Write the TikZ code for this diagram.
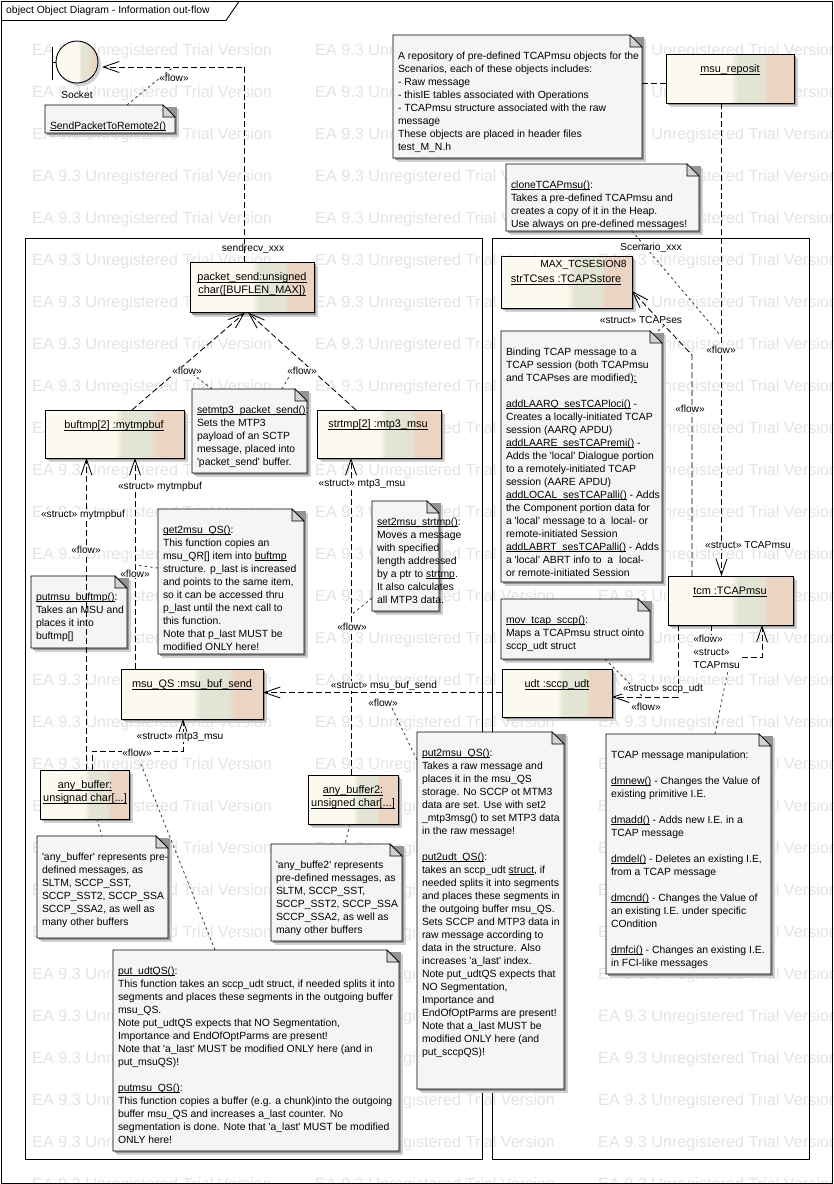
\documentclass[tikz,border=0pt]{standalone}
\usepackage{fontspec}
\setmainfont{Liberation Sans}[Ligatures=TeXOff]
\usetikzlibrary{arrows.meta}
\definecolor{cream}{HTML}{FCF9EF}
\definecolor{sage}{HTML}{E3E4D3}
\definecolor{peach}{HTML}{ECD4C3}
\definecolor{notefill}{HTML}{F5F5F5}
\definecolor{foldfill}{HTML}{D2D2D2}
\definecolor{wmark}{HTML}{E4E4E4}
\pgfdeclarehorizontalshading{objshade}{100bp}{color(0bp)=(cream); color(50bp)=(cream); color(53bp)=(sage); color(63bp)=(sage); color(65bp)=(peach); color(100bp)=(peach)}
\pgfdeclarehorizontalshading{sockshade}{100bp}{color(0bp)=(cream); color(38bp)=(cream); color(52bp)=(cream); color(55bp)=(sage); color(62bp)=(sage); color(70bp)=(peach); color(100bp)=(peach)}
\newsavebox\ulbox
\newcommand\ulx[1]{\leavevmode\sbox\ulbox{#1}\rlap{\rule[-1.7pt]{\wd\ulbox}{.75pt}}\usebox\ulbox}
\newcommand\blk{\mbox{}}
\tikzset{
 x=1pt,y=-1pt,
 txtfont/.style={font=\fontsize{10.4}{13}\selectfont},
 labfont/.style={font=\fontsize{10.2}{13}\selectfont},
 boxfont/.style={font=\fontsize{10.9}{13}\selectfont},
 framel/.style={draw=black,line width=.9pt},
 objstyle/.style={draw=black,line width=.9pt,shade,shading=objshade,inner sep=0pt,outer sep=0pt,rectangle},
 anchorbox/.style={inner sep=0pt,outer sep=0pt,rectangle},
 shad1/.style={fill=black!18},
 shad2/.style={fill=black!42},
 notefillst/.style={fill=notefill,draw=black,line width=.9pt,line join=miter},
 foldst/.style={fill=foldfill,draw=black,line width=.7pt},
 notetext/.style={txtfont,anchor=north west,align=left,inner sep=0pt,outer sep=0pt},
 boxtext/.style={boxfont,align=center,inner sep=0pt,outer sep=0pt},
 lab/.style={labfont,inner sep=.6pt,fill=white},
 plainlab/.style={labfont,inner sep=0pt},
 conn/.style={draw=black,line width=.85pt,dash pattern=on 6pt off 3pt},
 flowarr/.style={conn,-{Straight Barb[length=16pt,width=11pt,line width=.85pt]}},
 lnk/.style={draw=black!75,line width=.85pt,dash pattern=on 2.5pt off 3pt},
 wm/.style={font=\fontsize{16.2}{18}\selectfont,text=wmark,anchor=west,inner sep=0pt},
}
% name x0 y0 x1 y1
\newcommand\objbox[5]{%
 \fill[shad1] (#2+4,#3+4) rectangle (#4+4,#5+4);
 \fill[shad2] (#2+2,#3+2) rectangle (#4+2,#5+2);
 \node[objstyle,minimum width={(#4-#2)*1pt},minimum height={(#5-#3)*1pt}] (#1) at ({(#2+#4)/2},{(#3+#5)/2}) {};
}
% name x0 y0 x1 y1 text
\newcommand\notebox[6]{%
 \fill[shad1] (#2+4,#3+4) rectangle (#4+4,#5+4);
 \fill[shad2] (#2+2,#3+2) rectangle (#4+2,#5+2);
 \node[anchorbox,minimum width={(#4-#2)*1pt},minimum height={(#5-#3)*1pt}] (#1) at ({(#2+#4)/2},{(#3+#5)/2}) {};
 \draw[notefillst] (#2,#3) -- ({#4-12},#3) -- (#4,{#3+12}) -- (#4,#5) -- (#2,#5) -- cycle;
 \draw[foldst] ({#4-12},#3) -- ({#4-12},{#3+12}) -- (#4,{#3+12}) -- cycle;
 \node[notetext] (#1-t) at ({#2+5},{#3+15.5}) {\rule{0pt}{9pt}#6};
}
\begin{document}
\begin{tikzpicture}
\useasboundingbox (0,0) rectangle (834,1184);
\fill[white] (0,0) rectangle (834,1184);
% watermark
\begin{scope}
\clip (0,0) rectangle (834,1184);
\foreach \r in {0,...,27}{
 \foreach \c in {32,315,598}{
  \node[wm] at (\c,{51+42*\r}) {EA 9.3 Unregistered Trial Version};
 }
}
\end{scope}
% diagram frame
\draw[framel] (1.5,1.5) rectangle (832.5,1183);
\draw[framel] (1.5,20.5) -- (226,20.5) -- (239,1.5);
\node[txtfont,anchor=west,inner sep=0pt] (title) at (6,11) {object Object Diagram - Information out-flow};
% packages
\node[anchorbox,draw=black,line width=.9pt,minimum width=457.5pt,minimum height=921pt] (sendrecv) at (253.75,698.5) {};
\node[anchorbox,draw=black,line width=.9pt,minimum width=316.5pt,minimum height=921pt] (scenario) at (650.75,698.5) {};
\node[plainlab] (sendrecv-t) at (253,249) {sendrecv\_xxx};
\node[plainlab] (scenario-t) at (651,248) {Scenario\_xxx};
% socket
\fill[shad1] (80,65) circle[radius=21];
\node[objstyle,shading=sockshade,circle,minimum size=42pt] (socket) at (77,62) {};
\coordinate (barmid) at (52.5,62);
\draw[framel] (52.5,47) -- (52.5,80);
\draw[framel] (barmid) -- (socket.west);
\node[plainlab] (socket-t) at (77,94.5) {Socket};
% objects
\objbox{packet}{190}{262}{314}{312.5}
\node[boxtext] (packet-t) at (252,284.5) {\ulx{packet\_send:unsigned}\\\ulx{char([BUFLEN\_MAX])}};
\objbox{reposit}{666}{54}{794}{103}
\node[boxtext] (reposit-t) at (730,70) {\ulx{msu\_reposit}};
\objbox{strtc}{501}{256}{632}{308}
\node[boxtext,font=\fontsize{10.3}{13}\selectfont] (strtc-a) at (583.5,264.5) {MAX\_TCSESION8};
\node[boxtext] (strtc-t) at (566,280) {\ulx{strTCses :TCAPSstore}};
\objbox{tcm}{668}{576}{793}{625}
\node[boxtext] (tcm-t) at (730,592) {\ulx{tcm :TCAPmsu}};
\objbox{udt}{502}{669}{612}{717}
\node[boxtext] (udt-t) at (557,685) {\ulx{udt :sccp\_udt}};
\objbox{msuqs}{121}{669}{263}{719}
\node[boxtext] (msuqs-t) at (192,685) {\ulx{msu\_QS :msu\_buf\_send}};
\objbox{buftmp}{45}{410}{184}{458}
\node[boxtext] (buftmp-t) at (114,426) {\ulx{buftmp[2] :mytmpbuf}};
\objbox{strtmp}{317}{410}{441}{458}
\node[boxtext] (strtmp-t) at (378,425) {\ulx{strtmp[2] :mtp3\_msu}};
\objbox{anyb}{40}{770}{129}{819}
\node[boxtext] (anyb-t) at (85,792.5) {\ulx{any\_buffer:}\\\ulx{unsignad char[...]}};
\objbox{anybb}{308}{775}{398}{824}
\node[boxtext] (anybb-t) at (353,797.5) {\ulx{any\_buffer2:}\\\ulx{unsigned char[...]}};
% notes
\notebox{nsend}{45}{105}{175}{133}{\ulx{SendPacketToRemote2()}}
\notebox{nrepo}{393}{35}{642}{158}{A repository of pre-defined TCAPmsu objects for the\\Scenarios, each of these objects includes:\\- Raw message\\- thisIE tables associated with Operations\\- TCAPmsu structure associated with the raw\\message\\These objects are placed in header files\\test\_M\_N.h}
\notebox{nclone}{506}{164}{699}{231}{\ulx{cloneTCAPmsu()}:\\Takes a pre-defined TCAPmsu and\\creates a copy of it in the Heap.\\Use always on pre-defined messages!}
\notebox{nbind}{501}{331}{662}{582}{Binding TCAP message to a\\TCAP session (both TCAPmsu\\and TCAPses are modified)\ulx{:}\\\blk\\\ulx{addLAARQ\_sesTCAPloci()} -\\Creates a locally-initiated TCAP\\session (AARQ APDU)\\\ulx{addLAARE\_sesTCAPremi()} -\\Adds the 'local' Dialogue portion\\to a remotely-initiated TCAP\\session (AARE APDU)\\\ulx{addLOCAL\_sesTCAPalli()} - Adds\\the Component portion data for\\a 'local' message to a~ local- or\\remote-initiated Session\\\ulx{addLABRT\_sesTCAPalli()} - Adds\\a 'local' ABRT info to~ a~ local-\\or remote-initiated Session}
\notebox{nmov}{501}{599}{650}{659}{\ulx{mov\_tcap\_sccp()}:\\Maps a TCAPmsu struct ointo\\sccp\_udt struct}
\notebox{nset}{192}{389}{307}{473}{\ulx{setmtp3\_packet\_send()}:\\Sets the MTP3\\payload of an SCTP\\message, placed into\\'packet\_send' buffer.}
\notebox{nget}{158}{509}{304}{654}{\ulx{get2msu\_QS()}:\\This function copies an\\msu\_QR[] item into \ulx{buftmp}\\structure. p\_last is increased\\and points to the same item,\\so it can be accessed thru\\p\_last until the next call to\\this function.\\Note that p\_last MUST be\\modified ONLY here!}
\notebox{nput}{31}{576}{127}{648}{\ulx{putmsu\_buftmp()}:\\Takes an MSU and\\places it into\\buftmp[]}
\notebox{nstr}{372}{501}{439}{611}{\ulx{set2msu\_strtmp()}:\\Moves a message\\with specified\\length addressed\\by a ptr to \ulx{strtmp}.\\It also calculates\\all MTP3 data.}
\notebox{nany}{37}{836}{168}{938}{'any\_buffer' represents pre-\\defined messages, as\\SLTM, SCCP\_SST,\\SCCP\_SST2, SCCP\_SSA\\SCCP\_SSA2, as well as\\many other buffers}
\notebox{nanyb}{271}{844}{402}{941}{'any\_buffe2' represents\\pre-defined messages, as\\SLTM, SCCP\_SST,\\SCCP\_SST2, SCCP\_SSA\\SCCP\_SSA2, as well as\\many other buffers}
\notebox{nudt}{113}{950}{399}{1151}{\ulx{put\_udtQS()}:\\This function takes an sccp\_udt struct, if needed splits it into\\segments and places these segments in the outgoing buffer\\msu\_QS.\\Note put\_udtQS expects that NO Segmentation,\\Importance and EndOfOptParms are present!\\Note that 'a\_last' MUST be modified ONLY here (and in\\put\_msuQS)!\\\blk\\\ulx{putmsu\_QS()}:\\This function copies a buffer (e.g. a chunk)into the outgoing\\buffer msu\_QS and increases a\_last counter. No\\segmentation is done. Note that 'a\_last' MUST be modified\\ONLY here!}
\notebox{nraw}{417}{732}{564}{1089}{\ulx{put2msu\_QS()}:\\Takes a raw message and\\places it in the msu\_QS\\storage. No SCCP ot MTM3\\data are set. Use with set2\\\_mtp3msg() to set MTP3 data\\in the raw message!\\\blk\\\ulx{put2udt\_QS()}:\\takes an sccp\_udt \ulx{struct}, if\\needed splits it into segments\\and places these segments in\\the outgoing buffer msu\_QS.\\Sets SCCP and MTP3 data in\\raw message according to\\data in the structure. Also\\increases 'a\_last' index.\\Note put\_udtQS expects that\\NO Segmentation,\\Importance and\\EndOfOptParms are present!\\Note that a\_last MUST be\\modified ONLY here (and\\put\_sccpQS)!}
\notebox{nman}{606}{734}{771}{974}{TCAP message manipulation:\\\blk\\\ulx{dmnew()} - Changes the Value of\\existing primitive I.E.\\\blk\\\ulx{dmadd()} - Adds new I.E. in a\\TCAP message\\\blk\\\ulx{dmdel()} - Deletes an existing I.E,\\from a TCAP message\\\blk\\\ulx{dmcnd()} - Changes the Value of\\an existing I.E. under specific\\COndition\\\blk\\\ulx{dmfci()} - Changes an existing I.E.\\in FCI-like messages}
% flows
\draw[flowarr] (244.5,0 |- packet.north) -- (244.5,67) -- ([shift={(4,5)}]socket.east);
\draw[flowarr] (132,0 |- buftmp.north) -- (245,0 |- packet.south);
\draw[flowarr] (356,0 |- strtmp.north) -- (248,0 |- packet.south);
\draw[flowarr] (86.5,0 |- anyb.north) -- (86.5,0 |- buftmp.south);
\draw[flowarr] (135,0 |- msuqs.north) -- (135,0 |- buftmp.south);
\draw[flowarr] (351,0 |- anybb.north) -- (351,0 |- strtmp.south);
\draw[flowarr] (92,0 |- anyb.north) -- (92,751) -- (183,751) -- (183,0 |- msuqs.south);
\draw[flowarr] (udt.west |- 0,692.5) -- (msuqs.east |- 0,692.5);
\draw[flowarr] (721.5,0 |- reposit.south) -- (721.5,0 |- tcm.north);
\draw[flowarr] (692,0 |- tcm.north) -- (692,355) -- (strtc.east |- 0,291);
\draw[flowarr] (678,0 |- tcm.south) -- (678,697) -- (udt.east |- 0,697);
\draw[flowarr] (711,0 |- tcm.south) -- (711,657) -- (762,657) -- (762,0 |- tcm.south);
\draw[conn] (nrepo.east |- 0,83) -- (reposit.west |- 0,83);
% note links
\coordinate (sockflow) at (172,68);
\coordinate (cloneflow) at (720,335);
\coordinate (bindflow) at (672,319);
\coordinate (movflow) at (643,697);
\coordinate (getflow) at (135,565);
\coordinate (strflow) at (351,615);
\coordinate (rawlab) at (392,708);
\coordinate (udtlab) at (140,762);
\coordinate (manlab) at (728,670);
\coordinate (setl) at (190,372);
\coordinate (setr) at (290,375);
\draw[lnk] (127,0 |- nsend.north) -- (sockflow);
\draw[lnk] (632,0 |- nclone.south) -- (cloneflow);
\draw[lnk] (658,0 |- nbind.north) -- (bindflow);
\draw[lnk] (605,0 |- nmov.south) -- (movflow);
\draw[lnk] (nget.west |- 0,568) -- (getflow);
\draw[lnk] (nstr.west |- 0,598) -- (strflow);
\draw[lnk] (nraw.west |- 0,760) -- (rawlab);
\draw[lnk] (215,0 |- nudt.north) -- (udtlab);
\draw[lnk] (715,0 |- nman.north) -- (manlab);
\draw[lnk] (212,0 |- nset.north) -- (setl);
\draw[lnk] (282,0 |- nset.north) -- (setr);
\draw[lnk] (97,0 |- anyb.south) -- (102,0 |- nany.north);
\draw[lnk] (350,0 |- anybb.south) -- (345,0 |- nanyb.north);
% labels
\node[lab] (f1) at (174,78) {«flow»};
\node[lab] (f2) at (187,371) {«flow»};
\node[lab] (f3) at (302,371) {«flow»};
\node[lab] (s1) at (160,487) {«struct» mytmpbuf};
\node[lab] (s2) at (362,484) {«struct» mtp3\_msu};
\node[lab] (s3) at (83,515) {«struct» mytmpbuf};
\node[lab] (f4) at (86,550) {«flow»};
\node[lab] (f5) at (135,574) {«flow»};
\node[lab] (f6) at (352,627) {«flow»};
\node[lab] (s4) at (384,686) {«struct» msu\_buf\_send};
\node[lab] (f7) at (383,703) {«flow»};
\node[lab] (s5) at (180,737) {«struct» mtp3\_msu};
\node[lab] (f8) at (137,753) {«flow»};
\node[lab] (s6) at (641,320) {«struct» TCAPses};
\node[lab] (f9) at (721,350) {«flow»};
\node[lab] (f10) at (690,409) {«flow»};
\node[lab] (s7) at (748,545) {«struct» TCAPmsu};
\node[lab,anchor=west,align=left] (s8) at (692.5,652) {«flow»\\«struct»\\TCAPmsu};
\node[lab] (s9) at (663,689) {«struct» sccp\_udt};
\node[lab] (f11) at (646,707) {«flow»};
\end{tikzpicture}
\end{document}
